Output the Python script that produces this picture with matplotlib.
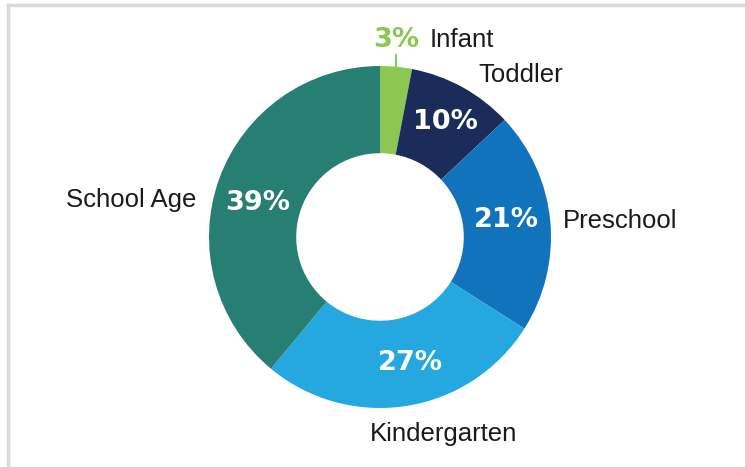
import matplotlib.pyplot as plt
from matplotlib import font_manager
from matplotlib.lines import Line2D
import numpy as np

categories = ['Infant', 'Toddler', 'Preschool', 'Kindergarten', 'School Age']
shares = [3, 10, 21, 27, 39]
colors = ['#8CC653', '#1B2C5A', '#1173BC', '#25A8E0', '#277F73']

R = 171.0  # outer radius in pixels
cx, cy = 380, 237
W, H = 745, 467


def pos(px, py):
    # pixel position -> data coords
    return (px - cx) / R, (cy - py) / R


# narrow face if there is one
try:
    font_manager.findfont('Liberation Sans Narrow', fallback_to_default=False)
    name_family, name_size = 'Liberation Sans Narrow', 22
except ValueError:
    name_family, name_size = 'Liberation Sans', 18.5

fig = plt.figure(figsize=(7.45, 4.67), dpi=100)
ax = fig.add_axes([0, 0, 1, 1])

ax.pie(shares, colors=colors, startangle=90, counterclock=False, radius=1.0,
       wedgeprops=dict(width=0.51, edgecolor='none'))
ax.set_xlim(-cx / R, (W - cx) / R)
ax.set_ylim(-(H - cy) / R, cy / R)
ax.set_aspect('equal')
ax.axis('off')

pct_font = dict(family='DejaVu Sans', weight='bold', fontsize=19.5)
name_font = dict(family=[name_family, 'DejaVu Sans'], fontsize=name_size, color='#1a1a1a')

pct_pos = [(396, 40), (445, 122), (506, 220), (410, 363), (258, 203)]
name_pos = [(430, 40, 'left'), (478, 75, 'left'), (563, 221, 'left'),
            (370, 434, 'left'), (196, 200, 'right')]

for i, (cat, v) in enumerate(zip(categories, shares)):
    x, y = pos(*pct_pos[i])
    c = colors[0] if i == 0 else 'white'
    ax.text(x, y, f'{v}%', color=c, ha='center', va='center', **pct_font)
    nx, ny, ha = name_pos[i]
    x, y = pos(nx, ny)
    ax.text(x, y, cat, ha=ha, va='center', **name_font)

# leader line for the small slice
mid = np.deg2rad(90 - shares[0] / 2 / sum(shares) * 360)
x0, y0 = np.cos(mid), np.sin(mid)
ax.plot([x0, x0], [y0, pos(0, 55)[1]], color=colors[0], lw=1.5)

# light frame (top and left edges)
fig.add_artist(Line2D([8 / W, 1], [1 - 5 / H, 1 - 5 / H], color='#D9D9D9', lw=2.5))
fig.add_artist(Line2D([8 / W, 8 / W], [0, 1 - 5 / H], color='#D9D9D9', lw=2.5))

fig.savefig('out.png', dpi=100)
